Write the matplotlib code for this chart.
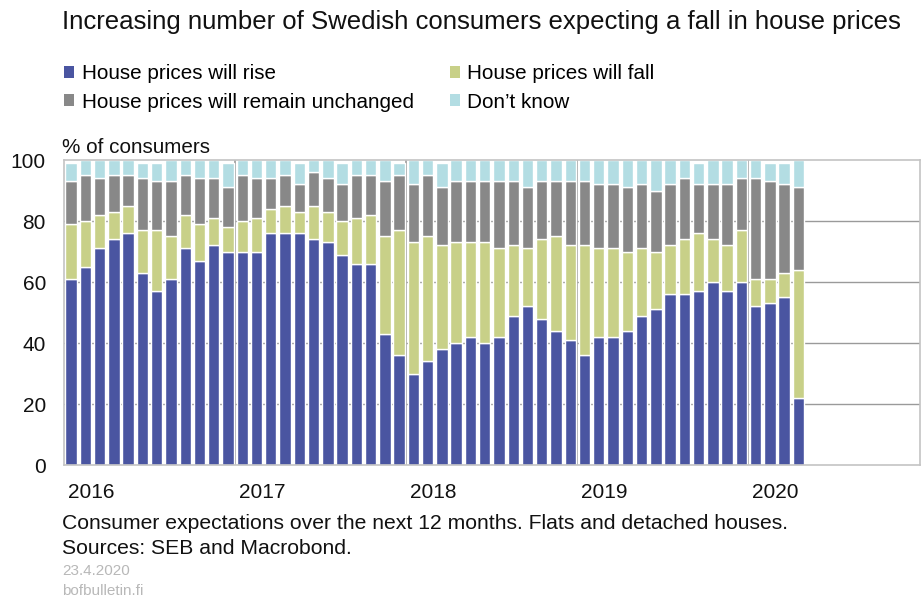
import numpy as np
import matplotlib.pyplot as plt
import matplotlib.transforms as mtrans
from matplotlib.patches import Patch

plt.rcParams['font.family'] = ['Liberation Sans', 'DejaVu Sans']

# monthly survey, Jan 2016 - Apr 2020 (% of consumers)
rise = [61, 65, 71, 74, 76, 63, 57, 61, 71, 67, 72, 70,
        70, 70, 76, 76, 76, 74, 73, 69, 66, 66, 43, 36,
        30, 34, 38, 40, 42, 40, 42, 49, 52, 48, 44, 41,
        36, 42, 42, 44, 49, 51, 56, 56, 57, 60, 57, 60,
        52, 53, 55, 22]
fall = [18, 15, 11, 9, 9, 14, 20, 14, 11, 12, 9, 8,
        10, 11, 8, 9, 7, 11, 10, 11, 15, 16, 32, 41,
        43, 41, 34, 33, 31, 33, 29, 23, 19, 26, 31, 31,
        36, 29, 29, 26, 22, 19, 16, 18, 19, 14, 15, 17,
        9, 8, 8, 42]
unchanged = [14, 15, 12, 12, 10, 17, 16, 18, 13, 15, 13, 13,
             15, 13, 10, 10, 9, 11, 11, 12, 14, 13, 18, 18,
             19, 20, 19, 20, 20, 20, 22, 21, 20, 19, 18, 21,
             21, 21, 21, 21, 21, 20, 20, 20, 16, 18, 20, 17,
             33, 32, 29, 27]
dont_know = [6, 5, 6, 5, 5, 5, 6, 7, 5, 6, 6, 8,
             5, 6, 6, 5, 7, 4, 6, 7, 5, 5, 7, 4,
             8, 5, 8, 7, 7, 7, 7, 7, 9, 7, 7, 7,
             7, 8, 8, 9, 8, 10, 8, 6, 7, 8, 8, 6,
             6, 6, 7, 9]
years = ['2016', '2017', '2018', '2019', '2020']
series_labels = ['House prices will rise', 'House prices will fall',
                 'House prices will remain unchanged', "Don\u2019t know"]
colors = ['#4A55A1', '#C8D088', '#888888', '#B3DDE3']

fig = plt.figure(figsize=(9.21, 5.98), dpi=100)
ax = fig.add_axes([0.0695, 0.2224, 0.929, 0.51])

x = np.arange(len(rise)) + 0.5
bottom = np.zeros(len(rise))
for vals, c in zip([rise, fall, unchanged, dont_know], colors):
    ax.bar(x, vals, width=0.8, bottom=bottom, color=c,
           edgecolor='white', linewidth=1.0, zorder=2)
    bottom += np.array(vals)

ax.set_xlim(0, 60)
ax.set_ylim(0, 100)
ax.set_yticks(range(0, 101, 20))
for y in range(20, 100, 20):
    ax.axhline(y, color='#9a9a9a', linewidth=1, zorder=1)
for k in range(1, 5):
    ax.axvline(12 * k, color='#9a9a9a', linewidth=1.2, zorder=1)
for s in ax.spines.values():
    s.set_color('#c4c4c4')
    s.set_linewidth(1.2)
ax.set_xticks([12 * k for k in range(5)])
ax.set_xticklabels(years, ha='left')
ax.tick_params(axis='both', length=0, labelsize=15, colors='#111111')
ax.tick_params(axis='x', pad=13)
ax.tick_params(axis='y', pad=13)
offset = mtrans.ScaledTranslation(4 / 100, 0, fig.dpi_scale_trans)
for lab in ax.get_xticklabels():
    lab.set_transform(lab.get_transform() + offset)

fig.text(0.0673, 0.963, 'Increasing number of Swedish consumers expecting a fall in house prices',
         fontsize=18.5, ha='left', va='center', color='#111111')

handles = [Patch(facecolor=colors[0]), Patch(facecolor=colors[2]),
           Patch(facecolor=colors[1]), Patch(facecolor=colors[3])]
labels = [series_labels[0], series_labels[2], series_labels[1], series_labels[3]]
fig.legend(handles, labels, ncol=2, loc='upper left', bbox_to_anchor=(0.0695, 0.893),
           frameon=False, fontsize=14.9, handlelength=0.5, handleheight=0.5,
           handletextpad=0.35, columnspacing=1.75, labelspacing=0.47, borderpad=0,
           borderaxespad=0)

fig.text(0.0673, 0.754, '% of consumers', fontsize=14.9, ha='left', va='center', color='#111111')

fig.text(0.0673, 0.124, 'Consumer expectations over the next 12 months. Flats and detached houses.',
         fontsize=15.2, ha='left', va='center', color='#111111')
fig.text(0.0673, 0.083, 'Sources: SEB and Macrobond.', fontsize=15.2, ha='left', va='center',
         color='#111111')
fig.text(0.0673, 0.045, '23.4.2020', fontsize=11, ha='left', va='center', color='#b8b8b8')
fig.text(0.0673, 0.012, 'bofbulletin.fi', fontsize=11, ha='left', va='center', color='#b8b8b8')

fig.savefig('out.png', dpi=100)
